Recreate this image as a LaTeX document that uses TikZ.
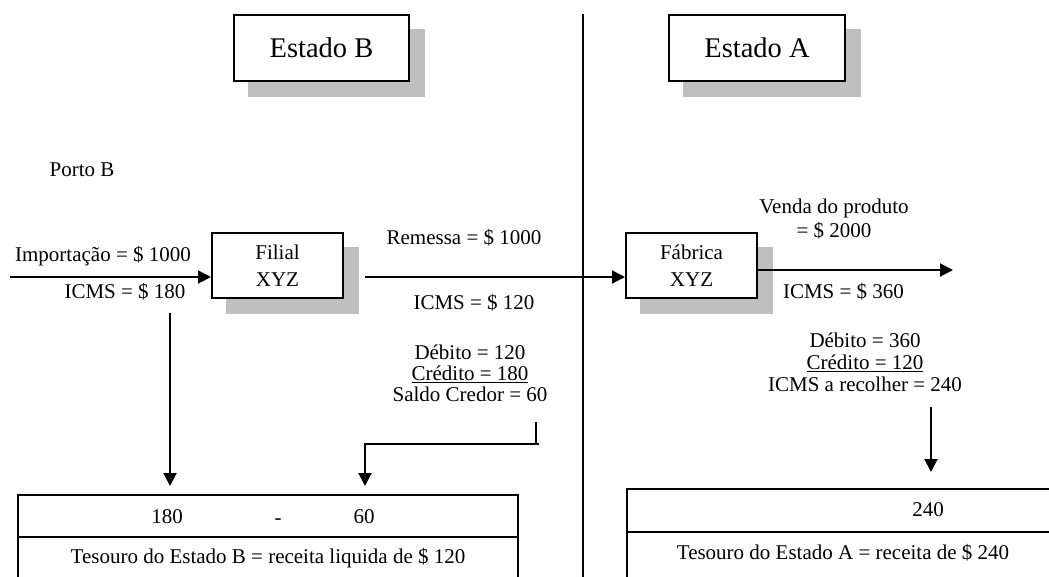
\documentclass[tikz,border=0pt]{standalone}
\usepackage{fontspec}
\setmainfont{Liberation Serif}
\usetikzlibrary{arrows.meta,backgrounds}
\definecolor{shadowgray}{HTML}{BFBFBF}
\begin{document}
\begin{tikzpicture}[x=1pt,y=-1pt,
  txt/.style={font=\fontsize{21}{22}\selectfont, inner sep=0pt, align=center},
  big/.style={font=\fontsize{28.5}{30}\selectfont},
  boxed/.style={draw, line width=2pt, fill=white, inner sep=0pt, align=center},
  cell/.style={draw, line width=2pt, inner sep=0pt, anchor=north west},
  ln/.style={line width=2pt},
  arr/.style={line width=2pt, -{Triangle[length=13pt,width=13pt]}}]
\useasboundingbox (0,0) rectangle (1049,576);

% state header boxes
\node[boxed, big, minimum width=175pt, minimum height=66pt] (estB) at (321.5,48) {Estado B};
\node[boxed, big, minimum width=176pt, minimum height=66pt] (estA) at (757,48) {Estado A};

% divider
\coordinate (divT) at (583,14);
\coordinate (divB) at (583,580);
\draw[ln] (divT) -- (divB);

\node[txt] (porto) at (82,170) {Porto B};

% company boxes
\node[boxed, txt, font=\fontsize{21}{27}\selectfont, minimum width=131pt, minimum height=65pt] (filial) at (277.5,265.5) {Filial\\XYZ};
\node[boxed, txt, font=\fontsize{21}{27}\selectfont, minimum width=131pt, minimum height=65pt] (fabrica) at (691.5,265.5) {Fábrica\\XYZ};

\begin{scope}[on background layer]
  \foreach \n in {estB,estA,filial,fabrica}{
    \fill[shadowgray] ([shift={(15,15)}]\n.north west) rectangle ([shift={(15,15)}]\n.south east);
  }
\end{scope}

% labels
\node[txt] (imp) at (103,256) {Importação = \$ 1000};
\node[txt] (icms180) at (125,292) {ICMS = \$ 180};
\node[txt] (rem) at (464,238) {Remessa = \$ 1000};
\node[txt] (icms120) at (474,303) {ICMS = \$ 120};
\node[txt, font=\fontsize{21}{21}\selectfont] (contaB) at (470,373) {Débito = 120\\\underline{Crédito = 180}\\Saldo Credor = 60};
\node[txt, font=\fontsize{21}{23.5}\selectfont] (venda) at (834,219) {Venda do produto\\= \$ 2000};
\node[txt] (icms360) at (843.5,292) {ICMS = \$ 360};
\node[txt, font=\fontsize{21}{22}\selectfont] (contaA) at (865,362) {Débito = 360\\\underline{Crédito = 120}\\ICMS a recolher = 240};

% treasury tables
\node[cell, minimum width=500pt, minimum height=93pt] (tB) at (17,494) {};
\coordinate (tBdivL) at (17,537);
\draw[ln] (tBdivL) -- (tBdivL -| tB.east);
\node[txt] (v180) at (167,517) {180};
\node[txt, anchor=base] (minus) at (278,524) {-};
\node[txt] (v60) at (364,517) {60};
\node[txt] (tesB) at (268,558) {Tesouro do Estado B = receita liquida de \$ 120};

\node[cell, minimum width=434pt, minimum height=94pt] (tA) at (626,488) {};
\coordinate (tAdivL) at (626,532);
\draw[ln] (tAdivL) -- (tAdivL -| tA.east);
\node[txt] (v240) at (928,510) {240};
\node[txt] (tesA) at (843,553) {Tesouro do Estado A = receita de \$ 240};

% connectors
\coordinate (inStart) at (10,277);
\draw[arr] (inStart) -- (inStart -| filial.west);
\coordinate (remStart) at (365,277);
\draw[arr] (remStart) -- (remStart -| fabrica.west);
\coordinate (outStart) at (fabrica.east |- 0,270);
\coordinate (outEnd) at (953,270);
\draw[arr] (outStart) -- (outEnd);

\coordinate (dA) at (170,313);
\coordinate (dAend) at (170,486);
\draw[arr] (dA) -- (dAend);

\coordinate (bTop) at (536,422);
\coordinate (bCorner) at (536,444);
\coordinate (bEnd) at (365,486);
\draw[ln] (bTop) -- (bCorner);
\draw[arr] (539,444) -- (bEnd |- bCorner) -- (bEnd);

\coordinate (rA) at (931,407);
\coordinate (rAend) at (931,472);
\draw[arr] (rA) -- (rAend);
\end{tikzpicture}
\end{document}
